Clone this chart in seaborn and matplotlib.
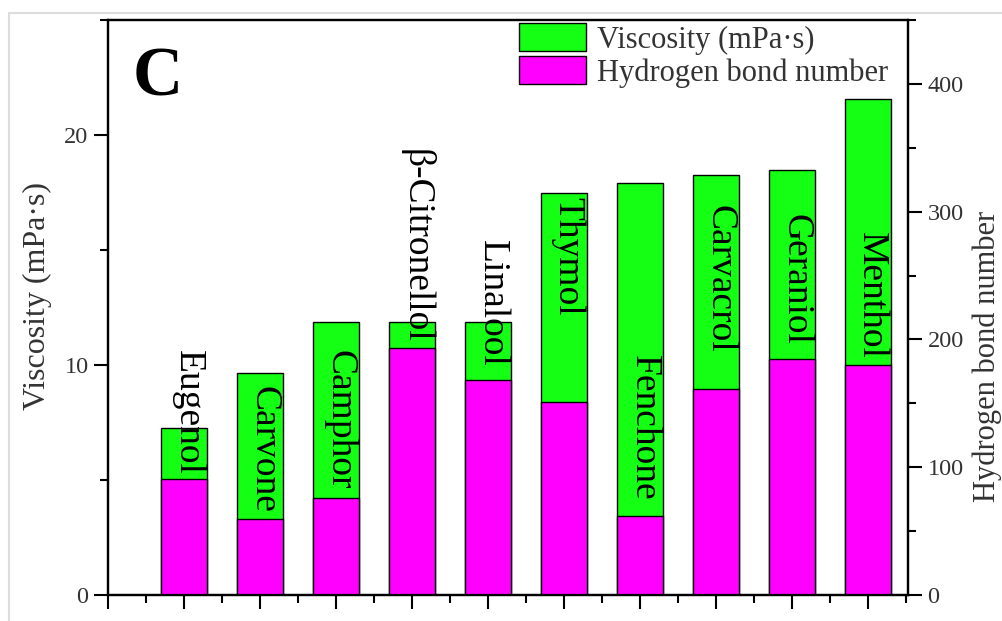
import matplotlib
matplotlib.use("Agg")
import matplotlib.pyplot as plt
import matplotlib.patches as mpatches
from matplotlib.ticker import MultipleLocator
import numpy as np
import pandas as pd
import seaborn as sns

# ---- data ----
compounds = ["Eugenol", "Carvone", "Camphor", "\u03b2-Citronellol", "Linalool",
             "Thymol", "Fenchone", "Carvacrol", "Geraniol", "Menthol"]
viscosity = [7.26, 9.65, 11.87, 11.87, 11.87, 17.48, 17.91, 18.26, 18.48, 21.57]
hbond_number = [90.8, 59.5, 75.9, 193.3, 168.3, 151.0, 61.8, 161.2, 184.7, 180.0]

# top of each rotated compound name, in viscosity units (layout only)
name_top = [10.65, 9.1, 10.65, 19.4, 15.45, 17.3, 10.45, 16.95, 16.55, 15.8]

df = pd.DataFrame({"compound": compounds, "viscosity": viscosity,
                   "hbond": hbond_number})

sns.set_style("ticks")
plt.rcParams["font.family"] = ["Liberation Serif", "DejaVu Serif"]

GREEN = "#14FF14"
MAGENTA = "#FF00FF"

fig = plt.figure(figsize=(10.03, 6.21), dpi=100)
ax = fig.add_axes([108 / 1003, 1 - 595 / 621, 800 / 1003, (595 - 20) / 621])

sns.barplot(data=df, x="compound", y="viscosity", ax=ax, color=GREEN,
            saturation=1, width=0.6, edgecolor="black", linewidth=1.0,
            order=compounds)

ax2 = ax.twinx()
sns.barplot(data=df, x="compound", y="hbond", ax=ax2, color=MAGENTA,
            saturation=1, width=0.6, edgecolor="black", linewidth=1.0,
            order=compounds)

ax.set_xlim(-1, 9.53)
ax.set_ylim(0, 25)
ax2.set_ylim(0, 450)
ax2.set_xlim(-1, 9.53)

# x ticks: major at bar positions plus left edge, minor in between
ax.set_xticks(np.arange(-1, 10))
ax.set_xticklabels([])
ax.xaxis.set_minor_locator(MultipleLocator(0.5))
ax.set_xlabel("")
ax2.set_xlabel("")

ax.yaxis.set_major_locator(MultipleLocator(10))
ax.yaxis.set_minor_locator(MultipleLocator(5))
ax2.yaxis.set_major_locator(MultipleLocator(100))
ax2.yaxis.set_minor_locator(MultipleLocator(50))

tick_color = "#333333"
for a in (ax, ax2):
    a.tick_params(which="major", direction="out", length=10, width=1.5,
                  labelsize=17.5, colors="black", labelcolor=tick_color, pad=4)
    a.tick_params(which="minor", direction="out", length=6, width=1.5,
                  colors="black")
    for s in a.spines.values():
        s.set_visible(True)
        s.set_linewidth(1.6)
        s.set_color("black")

ax.set_ylabel("Viscosity (mPa\u00b7s)", fontsize=23, color=tick_color)
ax.yaxis.set_label_coords(-0.07, 0.52)
ax2.set_ylabel("Hydrogen bond number", fontsize=22, color=tick_color)
ax2.yaxis.set_label_coords(1.081, 0.415)

# compound names written vertically on the bars
for i, (name, top) in enumerate(zip(compounds, name_top)):
    ax2.text(i + 0.05, top, name, transform=ax.transData, rotation=270,
             ha="center", va="top", fontsize=27, color="black", zorder=5)

# panel letter
fig.text(133 / 1003, 1 - 96 / 621, "C", fontsize=50, fontweight="bold",
         va="baseline", ha="left", color="black")

handles = [mpatches.Patch(facecolor=GREEN, edgecolor="black", linewidth=1.0,
                          label="Viscosity (mPa\u00b7s)"),
           mpatches.Patch(facecolor=MAGENTA, edgecolor="black", linewidth=1.0,
                          label="Hydrogen bond number")]
leg = ax2.legend(handles=handles, loc="upper left",
                 bbox_to_anchor=(519 / 1003, 1 - 23 / 621),
                 bbox_transform=fig.transFigure, frameon=False, fontsize=22,
                 handlelength=2.2, handleheight=1.05, labelspacing=0.05,
                 handletextpad=0.35, borderpad=0, borderaxespad=0)
for t in leg.get_texts():
    t.set_color(tick_color)

# thin grey frame around the figure
fig.add_artist(mpatches.Rectangle((9 / 1003, -0.01), 1.02, 1 - 13 / 621 + 0.01,
                                  transform=fig.transFigure, fill=False,
                                  edgecolor="#dddddd", linewidth=1.5))

fig.savefig("out.png", dpi=100)
